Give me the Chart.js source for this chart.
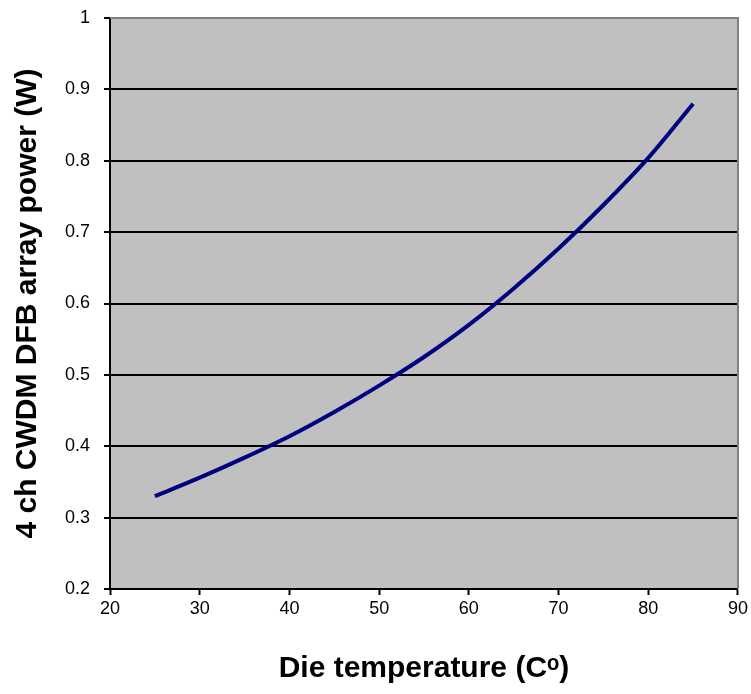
<!DOCTYPE html>
<html>
<head>
<meta charset="utf-8">
<script src="https://cdn.jsdelivr.net/npm/chart.js@4/dist/chart.umd.min.js"></script>
<style>
  html, body { margin: 0; padding: 0; background: #fff; }
  #wrap { width: 751px; height: 694px; }
</style>
</head>
<body>
<div id="wrap"><canvas id="power"></canvas></div>
<script>
// die temperature (C) vs array power (W)
const temps = [25, 30, 35, 40, 45, 50, 55, 60, 65, 70, 75, 80, 85];
const power = [0.330, 0.356, 0.384, 0.414, 0.448, 0.485, 0.525, 0.570, 0.621, 0.677, 0.738, 0.804, 0.880];

const xMin = 20, xMax = 90, xStep = 10;
const yMin = 0.2, yMax = 1, yStep = 0.1;

const xTitle = 'Die temperature (C\u1D52)';
const yTitle = '4 ch CWDM DFB array power (W)';

const points = temps.map((t, i) => ({ x: t, y: power[i] }));

// gray plot background + gray frame on top/right
const plotFrame = {
  id: 'plotFrame',
  beforeDraw(chart) {
    const a = chart.chartArea, ctx = chart.ctx;
    ctx.save();
    ctx.fillStyle = '#c0c0c0';
    ctx.fillRect(a.left, a.top, a.right - a.left, a.bottom - a.top);
    ctx.restore();
  },
  afterDatasetsDraw(chart) {
    const a = chart.chartArea, ctx = chart.ctx;
    ctx.save();
    ctx.strokeStyle = '#808080';
    ctx.lineWidth = 2;
    ctx.beginPath();
    ctx.moveTo(a.left, a.top);
    ctx.lineTo(a.right, a.top);
    ctx.lineTo(a.right, a.bottom);
    ctx.stroke();
    ctx.restore();
  }
};

const powerChart = {
  type: 'line',
  data: {
    datasets: [{
      data: points,
      borderColor: '#000080',
      borderWidth: 4,
      pointRadius: 0,
      fill: false,
      cubicInterpolationMode: 'monotone'
    }]
  },
  options: {
    responsive: true,
    maintainAspectRatio: false,
    animation: false,
    layout: { padding: { top: 18, right: 10, left: 0, bottom: 0 } },
    plugins: {
      legend: { display: false },
      tooltip: { enabled: false }
    },
    scales: {
      x: {
        type: 'linear',
        min: xMin,
        max: xMax,
        ticks: {
          stepSize: xStep,
          color: '#000',
          font: { family: 'Liberation Sans, Arial', size: 18 },
          padding: 3
        },
        grid: { drawOnChartArea: false, tickLength: 6, tickColor: '#000', tickWidth: 2 },
        border: { color: '#000', width: 2 },
        title: {
          display: true,
          text: xTitle,
          color: '#000',
          font: { family: 'Liberation Sans, Arial', size: 30, weight: 'bold' },
          padding: { top: 10, bottom: 7 }
        },
        afterFit(scale) { scale.height = 105; }
      },
      y: {
        type: 'linear',
        min: yMin,
        max: yMax,
        ticks: {
          stepSize: yStep,
          color: '#000',
          font: { family: 'Liberation Sans, Arial', size: 18 },
          padding: 14,
          callback: v => Number(v.toFixed(1)).toString()
        },
        grid: { color: '#000', lineWidth: 2, tickLength: 6, tickColor: '#000', tickWidth: 2 },
        border: { color: '#000', width: 2 },
        title: {
          display: true,
          text: yTitle,
          color: '#000',
          font: { family: 'Liberation Sans, Arial', size: 30, weight: 'bold' },
          padding: { top: 10, bottom: 8 }
        },
        afterFit(scale) {
          scale.width = 110;
          scale.paddingTop = 0;
          scale.paddingBottom = 0;
        }
      }
    }
  },
  plugins: [plotFrame]
};

var myPowerChart = new Chart(document.getElementById('power'), powerChart);
</script>
</body>
</html>
